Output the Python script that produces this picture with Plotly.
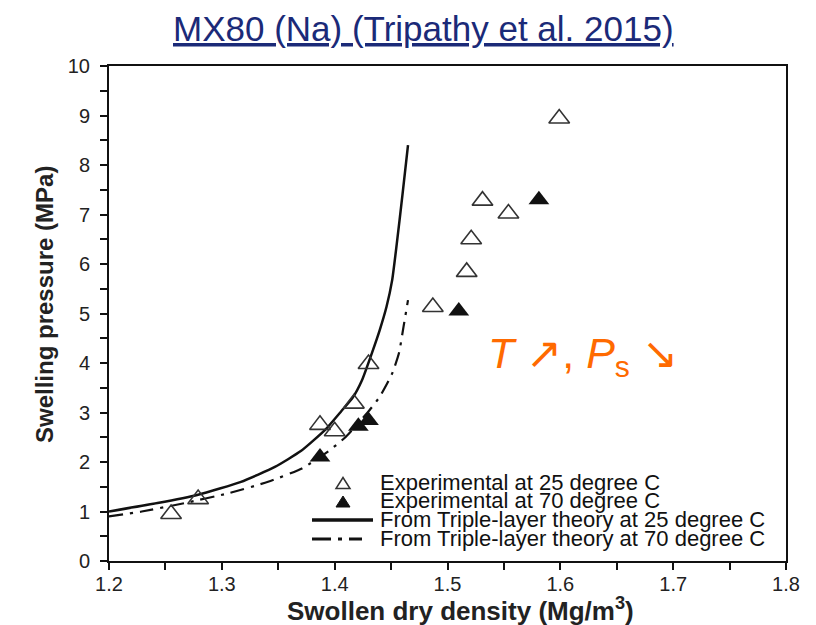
import plotly.graph_objects as go

# ---------------- data ----------------
exp25_density = [1.255, 1.279, 1.387, 1.400, 1.417, 1.430, 1.487, 1.517, 1.521, 1.531, 1.554, 1.599]
exp25_pressure = [0.95, 1.25, 2.75, 2.62, 3.18, 3.98, 5.13, 5.84, 6.50, 7.28, 7.02, 8.94]

exp70_density = [1.387, 1.421, 1.430, 1.510, 1.581]
exp70_pressure = [2.10, 2.72, 2.84, 5.05, 7.30]

theory25_density = [1.200, 1.243, 1.279, 1.317, 1.347, 1.370, 1.392, 1.406, 1.416, 1.424,
                    1.433, 1.440, 1.446, 1.451, 1.455, 1.460, 1.465]
theory25_pressure = [1.00, 1.17, 1.34, 1.60, 1.90, 2.22, 2.66, 3.03, 3.30, 3.64,
                     4.20, 4.67, 5.14, 5.68, 6.40, 7.38, 8.40]

theory70_density = [1.200, 1.229, 1.267, 1.306, 1.341, 1.371, 1.394, 1.410, 1.431, 1.440,
                    1.451, 1.457, 1.461, 1.465]
theory70_pressure = [0.90, 1.00, 1.17, 1.37, 1.60, 1.87, 2.21, 2.51, 3.05, 3.32,
                     3.79, 4.20, 4.73, 5.27]

x_ticks = [1.2, 1.3, 1.4, 1.5, 1.6, 1.7, 1.8]
y_ticks = [0, 1, 2, 3, 4, 5, 6, 7, 8, 9, 10]

legend_labels = ["Experimental at 25 degree C",
                 "Experimental at 70 degree C",
                 "From Triple-layer theory at 25 degree C",
                 "From Triple-layer theory at 70 degree C"]

title_text = "MX80 (Na) (Tripathy et al. 2015)"
note_text = "<i>T</i> ↗, <i>P</i><sub>s</sub> ↘"

# ---------------- layout helpers ----------------
# page body has an 8px margin, so the figure is drawn 8px smaller and offset
OFF = 8
WIN_W, WIN_H = 816, 625
W, H = WIN_W - OFF, WIN_H - OFF
L, R, T, B = 109, 786, 66, 561      # plot area in window pixels
FONT = "Liberation Sans, Arial, sans-serif"


def px_x(p):
    return (p - L) / (R - L)


def px_y(p):
    return (B - p) / (B - T)


fig = go.Figure()

fig.add_trace(go.Scatter(
    x=theory25_density, y=theory25_pressure, mode="lines",
    line=dict(color="#111111", width=2.5, shape="spline", smoothing=0.5),
    name=legend_labels[2], showlegend=False))
fig.add_trace(go.Scatter(
    x=theory70_density, y=theory70_pressure, mode="lines",
    line=dict(color="#111111", width=2.2, dash="14px,7px,3px,7px", shape="spline", smoothing=0.5),
    name=legend_labels[3], showlegend=False))
fig.add_trace(go.Scatter(
    x=exp25_density, y=exp25_pressure, mode="markers",
    marker=dict(symbol="triangle-up-open", size=18, color="#333333", line=dict(width=1.6)),
    name=legend_labels[0], showlegend=False))
fig.add_trace(go.Scatter(
    x=exp70_density, y=exp70_pressure, mode="markers",
    marker=dict(symbol="triangle-up", size=18, color="#111111", line=dict(width=0)),
    name=legend_labels[1], showlegend=False))

axis_common = dict(
    showline=True, linecolor="#111111", linewidth=2, mirror=True,
    showgrid=False, zeroline=False,
    ticks="outside", ticklen=7, tickwidth=2, tickcolor="#111111",
    tickfont=dict(family=FONT, size=20, color="#222222"),
)

fig.update_xaxes(range=[1.2, 1.8], tickvals=x_ticks, ticktext=[f"{v:.1f}" for v in x_ticks],
                 minor=dict(dtick=0.05, tick0=1.2, ticks="outside", ticklen=7, tickwidth=2,
                            tickcolor="#111111", showgrid=False),
                 ticklabelstandoff=-3, **axis_common)
fig.update_yaxes(range=[0, 10], tickvals=y_ticks, ticktext=[str(v) for v in y_ticks],
                 minor=dict(dtick=0.5, tick0=0, ticks="outside", ticklen=7, tickwidth=2,
                            tickcolor="#111111", showgrid=False),
                 ticklabelstandoff=6, **axis_common)

annotations = [
    dict(text="<u>" + title_text + "</u>", x=px_x(423), y=px_y(29), xref="paper", yref="paper",
         xanchor="center", yanchor="middle", showarrow=False,
         font=dict(family=FONT, size=35, color="#1b2a78")),
    dict(text="<b>Swollen dry density (Mg/m<sup>3</sup>)</b>", x=px_x(460), y=px_y(609),
         xref="paper", yref="paper", xanchor="center", yanchor="middle", showarrow=False,
         font=dict(family=FONT, size=26, color="#222222")),
    dict(text="<b>Swelling pressure (MPa)</b>", x=px_x(44), y=px_y(305), textangle=-90,
         xref="paper", yref="paper", xanchor="center", yanchor="middle", showarrow=False,
         font=dict(family=FONT, size=24, color="#222222")),
    dict(text=note_text, x=px_x(486), y=px_y(356), xref="paper", yref="paper",
         xanchor="left", yanchor="middle", showarrow=False,
         font=dict(family=FONT, size=43, color="#ff6a00")),
]

legend_rows = [482.5, 500.8, 519.7, 538.8]
for lab, ry in zip(legend_labels, legend_rows):
    annotations.append(dict(text=lab, x=px_x(378), y=px_y(ry), xref="paper", yref="paper",
                            xanchor="left", yanchor="middle", showarrow=False,
                            font=dict(family=FONT, size=22, color="#111111")))


def tri_path(cx, cy, w, h):
    return (f"M{px_x(cx - w / 2)},{px_y(cy + h / 2)} L{px_x(cx + w / 2)},{px_y(cy + h / 2)} "
            f"L{px_x(cx)},{px_y(cy - h / 2)} Z")


shapes = [
    dict(type="path", xref="paper", yref="paper", path=tri_path(343, 483, 14, 11),
         line=dict(color="#333333", width=1.5), fillcolor="white"),
    dict(type="path", xref="paper", yref="paper", path=tri_path(343, 501.5, 14, 11),
         line=dict(color="#111111", width=1), fillcolor="#111111"),
    dict(type="line", xref="paper", yref="paper", x0=px_x(312), x1=px_x(373),
         y0=px_y(520), y1=px_y(520), line=dict(color="#111111", width=3.5)),
    dict(type="line", xref="paper", yref="paper", x0=px_x(312), x1=px_x(362),
         y0=px_y(539), y1=px_y(539), line=dict(color="#111111", width=3, dash="19px,7px,4px,7px")),
]

fig.update_layout(
    width=W, height=H,
    margin=dict(l=L - OFF, r=WIN_W - R, t=T - OFF, b=WIN_H - B, pad=0),
    paper_bgcolor="white", plot_bgcolor="white",
    font=dict(family=FONT, color="#222222"),
    showlegend=False,
    annotations=annotations,
    shapes=shapes,
)

fig.write_html("out.html")
